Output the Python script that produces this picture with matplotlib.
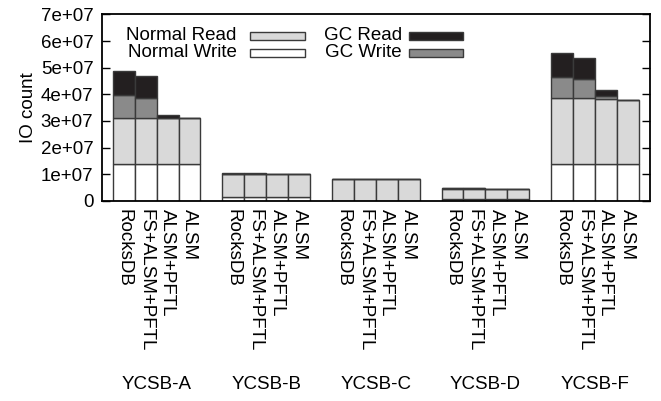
import matplotlib
matplotlib.use("Agg")
import matplotlib.pyplot as plt
from matplotlib.patches import Rectangle
from matplotlib.ticker import FuncFormatter
import numpy as np

plt.rcParams["font.family"] = ["Liberation Sans", "DejaVu Sans"]

workloads = ["YCSB-A", "YCSB-B", "YCSB-C", "YCSB-D", "YCSB-F"]
systems = ["RocksDB", "FS+ALSM+PFTL", "ALSM+PFTL", "ALSM"]

# IO counts, one row per workload, one column per system
normal_write = np.array([
    [1.38e7, 1.38e7, 1.38e7, 1.37e7],
    [0.14e7, 0.14e7, 0.14e7, 0.14e7],
    [0.01e7, 0.01e7, 0.01e7, 0.01e7],
    [0.07e7, 0.07e7, 0.07e7, 0.07e7],
    [1.39e7, 1.39e7, 1.39e7, 1.38e7],
])
normal_read = np.array([
    [1.72e7, 1.72e7, 1.72e7, 1.73e7],
    [0.86e7, 0.86e7, 0.86e7, 0.86e7],
    [0.83e7, 0.83e7, 0.83e7, 0.83e7],
    [0.39e7, 0.39e7, 0.39e7, 0.39e7],
    [2.49e7, 2.47e7, 2.43e7, 2.41e7],
])
gc_write = np.array([
    [0.88e7, 0.78e7, 0.03e7, 0.0],
    [0.01e7, 0.01e7, 0.0, 0.0],
    [0.0, 0.0, 0.0, 0.0],
    [0.01e7, 0.01e7, 0.0, 0.0],
    [0.79e7, 0.72e7, 0.13e7, 0.0],
])
gc_read = np.array([
    [0.90e7, 0.81e7, 0.10e7, 0.0],
    [0.03e7, 0.03e7, 0.0, 0.0],
    [0.0, 0.0, 0.0, 0.0],
    [0.03e7, 0.03e7, 0.0, 0.0],
    [0.87e7, 0.79e7, 0.22e7, 0.0],
])

series = [
    ("Normal Write", normal_write, "#ffffff"),
    ("Normal Read", normal_read, "#d9d9d9"),
    ("GC Write", gc_write, "#8a8a8a"),
    ("GC Read", gc_read, "#231f20"),
]

FS = 13.5

fig = plt.figure(figsize=(6.61, 4.01), dpi=100)
ax = fig.add_axes([0.154, 0.499, 0.829, 0.465])

n_sys = len(systems)
slot = n_sys + 1
positions = np.array([[g * slot + i for i in range(n_sys)] for g in range(len(workloads))])

bottom = np.zeros_like(normal_write)
for name, vals, color in series:
    ax.bar(positions.ravel(), vals.ravel(), width=1.0, bottom=bottom.ravel(),
           color=color, edgecolor="#3a3a3a", linewidth=1.0, zorder=2)
    bottom = bottom + vals

ax.set_xlim(-1.0, positions.max() + 1.0)
ax.set_ylim(0, 7e7)
ax.set_yticks(np.arange(0, 7.01e7, 1e7))
ax.yaxis.set_major_formatter(FuncFormatter(lambda v, p: "0" if v == 0 else f"{v:.0e}"))
ax.tick_params(axis="y", direction="in", length=6, width=1, labelsize=FS, right=True, pad=6)
ax.tick_params(axis="x", length=0, labelsize=FS, pad=6)
ax.set_xticks(positions.ravel())
ax.set_xticklabels(systems * len(workloads), rotation=-90, va="top", ha="center")
ax.set_ylabel("IO count", fontsize=FS, labelpad=3)
for s in ax.spines.values():
    s.set_linewidth(1.3)

# workload names under each group
for g, w in enumerate(workloads):
    ax.text(positions[g].mean(), -0.985, w, transform=ax.get_xaxis_transform(),
            ha="center", va="center", fontsize=FS)

# key drawn as label + sample box pairs in two columns
key = [
    ("Normal Read", "#d9d9d9", 0.246, 0.270, 0.885),
    ("Normal Write", "#ffffff", 0.246, 0.270, 0.795),
    ("GC Read", "#231f20", 0.548, 0.560, 0.885),
    ("GC Write", "#8a8a8a", 0.548, 0.560, 0.795),
]
for label, color, tx, bx, y in key:
    ax.text(tx, y, label, transform=ax.transAxes, ha="right", va="center", fontsize=FS)
    ax.add_patch(Rectangle((bx, y - 0.022), 0.1, 0.044, transform=ax.transAxes,
                           facecolor=color, edgecolor="#3a3a3a", linewidth=1.0, zorder=3))

fig.savefig("out.png", dpi=100)
